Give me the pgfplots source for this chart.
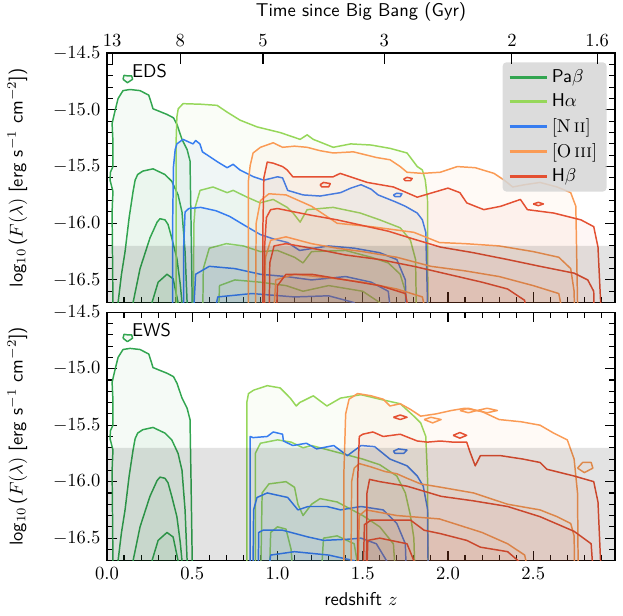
\documentclass[border=0pt]{standalone}
\usepackage{pgfplots}
\pgfplotsset{compat=1.18}
\definecolor{cPa}{RGB}{50,165,80}
\definecolor{cHa}{RGB}{150,215,90}
\definecolor{cN}{RGB}{55,125,240}
\definecolor{cO}{RGB}{250,155,85}
\definecolor{cHb}{RGB}{228,80,50}
\pgfplotsset{
  ctr/.style={draw=#1, fill=#1, fill opacity=0.05, line width=0.8pt, forget plot, line join=round},
  panel/.style={
    width=274pt, scale only axis,
    xmin=0, xmax=2.98, ymin=-16.7, ymax=-14.5,
    xtick={0,0.5,1,1.5,2,2.5}, ytick={-16.5,-16,-15.5,-15,-14.5},
    minor xtick={0.1,0.2,0.3,0.4,0.6,0.7,0.8,0.9,1.1,1.2,1.3,1.4,1.6,1.7,1.8,1.9,2.1,2.2,2.3,2.4,2.6,2.7,2.8,2.9},
    minor ytick={-16.6,-16.4,-16.3,-16.2,-16.1,-15.9,-15.8,-15.7,-15.6,-15.4,-15.3,-15.2,-15.1,-14.9,-14.8,-14.7,-14.6},
    tick align=inside, major tick length=5.5pt, minor tick length=3pt,
    every tick/.style={black, line width=0.6pt},
    axis line style={line width=0.8pt},
    xticklabel style={/pgf/number format/.cd, fixed, fixed zerofill, precision=1},
    yticklabel style={/pgf/number format/.cd, fixed, fixed zerofill, precision=1},
    ylabel={log$_{10}$\,($F(\lambda)$ [erg s$^{-1}$ cm$^{-2}$])},
    ylabel style={font=\sffamily}, ylabel shift=7pt,
    xlabel style={font=\sffamily},
  },
}
\newcommand{\paplots}{%
\addplot[ctr=cPa] coordinates {(0.035,-17) (0.035,-16.7) (0.03,-15.9) (0.035,-15.72) (0.018,-15.62) (0.02,-15.55) (0.035,-15.5) (0.035,-15.28) (0.03,-15.12) (0.047,-15.01) (0.065,-14.9) (0.094,-14.83) (0.135,-14.82) (0.194,-14.83) (0.245,-14.87) (0.26,-14.94) (0.27,-14.99) (0.352,-15.04) (0.39,-15.07) (0.411,-15.13) (0.44,-15.26) (0.47,-15.35) (0.487,-15.45) (0.493,-15.99) (0.5,-16.7) (0.5,-17)};
\addplot[ctr=cPa] coordinates {(0.065,-17) (0.065,-16.7) (0.085,-16.45) (0.106,-16.25) (0.13,-15.95) (0.153,-15.72) (0.165,-15.62) (0.18,-15.57) (0.21,-15.54) (0.27,-15.52) (0.34,-15.57) (0.38,-15.63) (0.417,-15.75) (0.44,-15.9) (0.458,-16.25) (0.47,-16.7) (0.47,-17)};
\addplot[ctr=cPa] coordinates {(0.153,-17) (0.153,-16.7) (0.194,-16.4) (0.252,-16.13) (0.294,-15.99) (0.311,-15.96) (0.34,-15.97) (0.358,-16.01) (0.38,-16.13) (0.41,-16.31) (0.43,-16.54) (0.44,-16.7) (0.44,-17)};
\addplot[ctr=cPa] coordinates {(0.264,-17) (0.264,-16.7) (0.3,-16.52) (0.352,-16.45) (0.388,-16.49) (0.417,-16.7) (0.417,-17)};
\addplot[ctr=cPa] coordinates {(0.094,-14.73) (0.1,-14.695) (0.12,-14.70) (0.145,-14.70) (0.15,-14.73) (0.12,-14.76) (0.094,-14.73)};
}
\begin{document}
\begin{tikzpicture}
% ---------------- EDS ----------------
\begin{axis}[panel, height=134.5pt, name=top, at={(0,0)}, anchor=south west,
  xticklabels={}, xtick pos=lower,
  legend style={at={(0.984,0.965)}, anchor=north east, fill=black!16, draw=none,
    fill opacity=0.85, text opacity=1, rounded corners=2pt, font=\sffamily,
    row sep=0.6pt, inner xsep=3pt, inner ysep=2pt, cells={anchor=west}},
  legend image code/.code={\draw[#1, line width=1.5pt] (0pt,0pt) -- (20pt,0pt);},
]
\paplots
% H alpha
\addplot[ctr=cHa] coordinates {(0.405,-17) (0.405,-16.0) (0.405,-15.3) (0.41,-15.06) (0.418,-14.99) (0.446,-14.945) (0.55,-14.95) (0.646,-14.96) (0.705,-15.02) (0.78,-15.09) (0.88,-15.15) (1.016,-15.2) (1.133,-15.26) (1.174,-15.22) (1.21,-15.26) (1.327,-15.33) (1.43,-15.30) (1.55,-15.31) (1.662,-15.34) (1.76,-15.38) (1.82,-15.5) (1.85,-15.53) (1.867,-15.62) (1.88,-15.79) (1.882,-16.7) (1.882,-17)};
\addplot[ctr=cHa] coordinates {(0.505,-17) (0.51,-16.0) (0.517,-15.86) (0.546,-15.71) (0.622,-15.68) (0.705,-15.73) (0.74,-15.71) (0.822,-15.77) (0.898,-15.82) (0.975,-15.79) (1.057,-15.86) (1.092,-15.91) (1.133,-15.99) (1.174,-15.88) (1.327,-15.86) (1.486,-15.91) (1.60,-15.97) (1.72,-16.04) (1.78,-16.15) (1.81,-16.32) (1.814,-16.7) (1.814,-17)};
\addplot[ctr=cHa] coordinates {(0.56,-17) (0.565,-16.4) (0.6,-16.22) (0.7,-16.18) (0.8,-16.2) (0.9,-16.25) (1.0,-16.24) (1.1,-16.3) (1.15,-16.35) (1.2,-16.25) (1.4,-16.24) (1.55,-16.3) (1.65,-16.35) (1.72,-16.45) (1.75,-16.6) (1.76,-17)};
\addplot[ctr=cHa] coordinates {(0.65,-17) (0.66,-16.55) (0.75,-16.5) (0.9,-16.52) (1.05,-16.55) (1.15,-16.6) (1.3,-16.55) (1.5,-16.6) (1.6,-16.7) (1.6,-17)};
% [N II]
\addplot[ctr=cN] coordinates {(0.385,-17) (0.385,-16.0) (0.39,-15.5) (0.4,-15.35) (0.41,-15.3) (0.446,-15.26) (0.475,-15.28) (0.505,-15.3) (0.52,-15.27) (0.545,-15.3) (0.56,-15.37) (0.65,-15.46) (0.705,-15.51) (0.74,-15.48) (0.78,-15.53) (0.86,-15.59) (0.92,-15.62) (1.0,-15.59) (1.03,-15.60) (1.06,-15.71) (1.15,-15.75) (1.25,-15.76) (1.37,-15.73) (1.43,-15.69) (1.49,-15.66) (1.55,-15.70) (1.59,-15.75) (1.69,-15.81) (1.75,-15.85) (1.82,-15.91) (1.85,-15.97) (1.87,-16.08) (1.88,-16.7) (1.88,-17)};
\addplot[ctr=cN] coordinates {(1.68,-15.75) (1.70,-15.735) (1.73,-15.74) (1.72,-15.765) (1.69,-15.765) (1.68,-15.75)};
\addplot[ctr=cN] coordinates {(0.45,-17) (0.45,-16.2) (0.458,-15.9) (0.48,-15.87) (0.55,-15.86) (0.64,-15.89) (0.72,-15.94) (0.82,-16.03) (0.9,-16.1) (0.98,-16.14) (1.06,-16.17) (1.13,-16.24) (1.3,-16.2) (1.45,-16.22) (1.6,-16.26) (1.7,-16.32) (1.75,-16.5) (1.76,-17)};
\addplot[ctr=cN] coordinates {(0.5,-17) (0.52,-16.45) (0.6,-16.38) (0.75,-16.4) (0.9,-16.45) (1.05,-16.47) (1.2,-16.5) (1.4,-16.47) (1.55,-16.52) (1.65,-16.6) (1.68,-17)};
\addplot[ctr=cN] coordinates {(0.6,-17) (0.65,-16.65) (0.85,-16.62) (1.1,-16.65) (1.3,-16.64) (1.45,-16.7) (1.45,-17)};
% [O III]
\addplot[ctr=cO] coordinates {(0.83,-17) (0.83,-16.0) (0.83,-15.62) (0.84,-15.49) (0.857,-15.38) (0.9,-15.33) (0.975,-15.29) (1.03,-15.33) (1.1,-15.32) (1.174,-15.33) (1.25,-15.36) (1.327,-15.38) (1.445,-15.37) (1.5,-15.39) (1.58,-15.42) (1.66,-15.44) (1.72,-15.5) (1.76,-15.55) (1.85,-15.56) (1.955,-15.55) (2.055,-15.50) (2.16,-15.51) (2.27,-15.56) (2.33,-15.62) (2.38,-15.68) (2.45,-15.66) (2.54,-15.64) (2.64,-15.68) (2.72,-15.73) (2.75,-15.85) (2.76,-16.7) (2.76,-17)};
\addplot[ctr=cO] coordinates {(0.87,-17) (0.875,-16.0) (0.9,-15.8) (0.95,-15.74) (1.05,-15.75) (1.2,-15.85) (1.35,-16.0) (1.55,-16.03) (1.8,-16.08) (1.95,-16.17) (2.1,-16.18) (2.3,-16.2) (2.5,-16.25) (2.65,-16.3) (2.72,-16.4) (2.74,-16.6) (2.745,-17)};
\addplot[ctr=cO] coordinates {(0.92,-17) (0.93,-16.3) (0.96,-16.15) (1.05,-16.12) (1.2,-16.18) (1.35,-16.22) (1.5,-16.25) (1.7,-16.3) (1.9,-16.38) (2.1,-16.42) (2.3,-16.47) (2.5,-16.55) (2.65,-16.62) (2.7,-17)};
\addplot[ctr=cO] coordinates {(0.97,-17) (0.99,-16.5) (1.1,-16.45) (1.3,-16.48) (1.5,-16.52) (1.7,-16.58) (1.85,-16.65) (1.9,-17)};
% H beta
\addplot[ctr=cHb] coordinates {(0.915,-17) (0.915,-16.0) (0.92,-15.6) (0.94,-15.46) (0.975,-15.47) (1.03,-15.5) (1.057,-15.53) (1.09,-15.59) (1.21,-15.59) (1.327,-15.59) (1.368,-15.56) (1.527,-15.64) (1.68,-15.68) (1.82,-15.77) (2.0,-15.69) (2.07,-15.73) (2.11,-15.82) (2.21,-15.88) (2.31,-15.85) (2.425,-15.79) (2.466,-15.88) (2.62,-15.91) (2.78,-15.97) (2.855,-16.03) (2.88,-16.21) (2.895,-16.68) (2.895,-17)};
\addplot[ctr=cHb] coordinates {(1.25,-15.66) (1.27,-15.64) (1.31,-15.65) (1.30,-15.68) (1.26,-15.68) (1.25,-15.66)};
\addplot[ctr=cHb] coordinates {(1.74,-15.61) (1.76,-15.595) (1.79,-15.605) (1.78,-15.625) (1.75,-15.625) (1.74,-15.61)};
\addplot[ctr=cHb] coordinates {(2.5,-15.83) (2.53,-15.815) (2.56,-15.83) (2.53,-15.845) (2.5,-15.83)};
\addplot[ctr=cHb] coordinates {(0.92,-17) (0.925,-16.2) (0.935,-15.95) (0.96,-15.88) (1.0,-15.87) (1.1,-15.9) (1.2,-15.93) (1.35,-15.97) (1.5,-16.02) (1.65,-16.07) (1.8,-16.14) (1.955,-16.21) (2.15,-16.26) (2.35,-16.32) (2.54,-16.38) (2.74,-16.44) (2.82,-16.5) (2.855,-16.6) (2.86,-17)};
\addplot[ctr=cHb] coordinates {(0.95,-17) (0.955,-16.35) (0.98,-16.2) (1.05,-16.18) (1.2,-16.22) (1.4,-16.28) (1.6,-16.32) (1.8,-16.38) (2.0,-16.45) (2.2,-16.52) (2.35,-16.58) (2.45,-16.68) (2.47,-17)};
\addplot[ctr=cHb] coordinates {(0.99,-17) (1.0,-16.55) (1.05,-16.45) (1.2,-16.45) (1.4,-16.5) (1.6,-16.55) (1.75,-16.62) (1.8,-17)};
% limit band
\addplot[draw=none, fill=black, fill opacity=0.11, forget plot] coordinates {(0,-16.2) (2.98,-16.2) (2.98,-17) (0,-17) (0,-16.2)};
\node[anchor=west, inner sep=0pt, font=\sffamily] at (axis cs:0.145,-14.66) {EDS};
\addlegendimage{cPa}\addlegendentry{Pa$\beta$}
\addlegendimage{cHa}\addlegendentry{H$\alpha$}
\addlegendimage{cN}\addlegendentry{{\rmfamily[N\,\textsc{ii}]}}
\addlegendimage{cO}\addlegendentry{{\rmfamily[O\,\textsc{iii}]}}
\addlegendimage{cHb}\addlegendentry{H$\beta$}
\end{axis}
% ---------------- time axis ----------------
\begin{axis}[width=274pt, height=134.5pt, scale only axis, at={(0,0)}, anchor=south west,
  xmin=0, xmax=2.98, ymin=0, ymax=1, axis x line*=top, axis y line=none,
  xtick={0.03,0.43,0.915,1.627,2.375,2.875}, xticklabels={13,8,5,3,2,1.6},
  tick align=inside, major tick length=6pt, every tick/.style={black, line width=0.6pt},
  axis line style={line width=0.8pt},
  xlabel={Time since Big Bang (Gyr)}, xlabel style={font=\sffamily}]
\addplot[draw=none, forget plot] coordinates {(0,0) (1,1)};
\end{axis}
% ---------------- EWS ----------------
\begin{axis}[panel, height=134pt, name=bot, at={(0,-5.2pt)}, anchor=north west,
  xlabel={redshift $z$}]
\paplots
% H alpha
\addplot[ctr=cHa] coordinates {(0.82,-17) (0.82,-15.3) (0.83,-15.22) (0.86,-15.19) (0.94,-15.15) (1.016,-15.17) (1.075,-15.26) (1.11,-15.33) (1.13,-15.30) (1.21,-15.24) (1.29,-15.33) (1.37,-15.26) (1.49,-15.23) (1.60,-15.27) (1.72,-15.31) (1.80,-15.42) (1.84,-15.48) (1.87,-15.6) (1.88,-15.96) (1.885,-17)};
\addplot[ctr=cHa] coordinates {(0.87,-17) (0.87,-15.75) (0.9,-15.66) (1.0,-15.63) (1.08,-15.65) (1.15,-15.7) (1.2,-15.68) (1.3,-15.72) (1.4,-15.76) (1.5,-15.8) (1.6,-15.85) (1.7,-15.95) (1.75,-16.1) (1.78,-16.3) (1.8,-16.5) (1.81,-17)};
\addplot[ctr=cHa] coordinates {(0.9,-17) (0.91,-16.1) (0.95,-16.02) (1.05,-16.0) (1.1,-16.05) (1.12,-16.2) (1.15,-16.3) (1.2,-16.2) (1.25,-16.15) (1.35,-16.18) (1.5,-16.3) (1.6,-16.4) (1.68,-16.55) (1.7,-17)};
\addplot[ctr=cHa] coordinates {(0.95,-17) (0.96,-16.45) (1.0,-16.4) (1.05,-16.42) (1.08,-16.6) (1.1,-17)};
\addplot[ctr=cHa] coordinates {(1.25,-17) (1.27,-16.5) (1.35,-16.48) (1.45,-16.55) (1.5,-17)};
% [N II]
\addplot[ctr=cN] coordinates {(0.84,-17) (0.84,-15.6) (0.857,-15.61) (0.94,-15.6) (0.975,-15.56) (1.03,-15.58) (1.035,-15.64) (1.09,-15.68) (1.17,-15.66) (1.23,-15.71) (1.33,-15.68) (1.41,-15.77) (1.49,-15.68) (1.57,-15.69) (1.66,-15.8) (1.76,-15.86) (1.82,-15.95) (1.855,-16.04) (1.88,-16.24) (1.885,-17)};
\addplot[ctr=cN] coordinates {(1.68,-15.73) (1.71,-15.71) (1.76,-15.72) (1.74,-15.75) (1.69,-15.75) (1.68,-15.73)};
\addplot[ctr=cN] coordinates {(0.855,-17) (0.86,-16.25) (0.88,-16.14) (0.94,-16.1) (1.06,-16.14) (1.12,-16.25) (1.18,-16.22) (1.29,-16.22) (1.37,-16.25) (1.49,-16.22) (1.62,-16.25) (1.70,-16.37) (1.75,-16.55) (1.76,-17)};
\addplot[ctr=cN] coordinates {(0.885,-17) (0.89,-16.45) (0.915,-16.43) (1.03,-16.43) (1.18,-16.49) (1.27,-16.52) (1.41,-16.51) (1.49,-16.50) (1.58,-16.55) (1.64,-16.7) (1.65,-17)};
\addplot[ctr=cN] coordinates {(0.93,-17) (0.96,-16.65) (1.1,-16.62) (1.3,-16.65) (1.45,-16.7) (1.5,-17)};
% [O III]
\addplot[ctr=cO] coordinates {(1.39,-17) (1.39,-15.9) (1.40,-15.4) (1.42,-15.27) (1.47,-15.22) (1.55,-15.24) (1.62,-15.27) (1.66,-15.33) (1.72,-15.31) (1.78,-15.36) (1.84,-15.42) (1.93,-15.40) (2.02,-15.37) (2.1,-15.35) (2.2,-15.38) (2.3,-15.45) (2.43,-15.47) (2.54,-15.5) (2.62,-15.57) (2.7,-15.63) (2.74,-15.8) (2.76,-16.1) (2.765,-17)};
\addplot[ctr=cO] coordinates {(2.07,-15.37) (2.12,-15.35) (2.17,-15.37) (2.23,-15.35) (2.29,-15.37) (2.23,-15.39) (2.17,-15.37) (2.12,-15.39) (2.07,-15.37)};
\addplot[ctr=cO] coordinates {(1.86,-15.45) (1.9,-15.43) (1.96,-15.45) (1.91,-15.48) (1.86,-15.45)};
\addplot[ctr=cO] coordinates {(2.76,-15.88) (2.79,-15.83) (2.84,-15.83) (2.85,-15.88) (2.8,-15.92) (2.76,-15.88)};
\addplot[ctr=cO] coordinates {(1.43,-17) (1.435,-16.0) (1.45,-15.88) (1.48,-15.84) (1.55,-15.87) (1.63,-15.91) (1.7,-15.93) (1.76,-15.97) (1.84,-16.02) (1.96,-16.05) (2.15,-16.1) (2.35,-16.2) (2.54,-16.25) (2.64,-16.31) (2.72,-16.37) (2.74,-16.48) (2.745,-17)};
\addplot[ctr=cO] coordinates {(1.47,-17) (1.48,-16.3) (1.52,-16.25) (1.7,-16.3) (1.95,-16.33) (2.2,-16.45) (2.35,-16.55) (2.45,-16.65) (2.5,-17)};
% H beta
\addplot[ctr=cHb] coordinates {(1.47,-17) (1.47,-16.0) (1.475,-15.8) (1.48,-15.6) (1.5,-15.58) (1.56,-15.56) (1.62,-15.6) (1.72,-15.58) (1.82,-15.64) (1.88,-15.65) (1.955,-15.64) (2.03,-15.65) (2.11,-15.65) (2.13,-15.74) (2.16,-15.86) (2.19,-15.77) (2.31,-15.77) (2.44,-15.80) (2.54,-15.83) (2.58,-15.89) (2.74,-15.95) (2.855,-16.0) (2.88,-16.18) (2.895,-16.7) (2.9,-17)};
\addplot[ctr=cHb] coordinates {(1.68,-15.43) (1.72,-15.41) (1.76,-15.43) (1.72,-15.45) (1.68,-15.43)};
\addplot[ctr=cHb] coordinates {(2.03,-15.59) (2.07,-15.565) (2.11,-15.59) (2.07,-15.615) (2.03,-15.59)};
\addplot[ctr=cHb] coordinates {(1.52,-17) (1.525,-16.1) (1.54,-15.98) (1.6,-16.0) (1.76,-16.04) (1.96,-16.13) (2.15,-16.17) (2.35,-16.22) (2.54,-16.31) (2.74,-16.44) (2.84,-16.55) (2.86,-17)};
\addplot[ctr=cHb] coordinates {(1.5,-17) (1.51,-16.38) (1.55,-16.34) (1.68,-16.34) (1.78,-16.34) (1.86,-16.43) (1.955,-16.46) (2.11,-16.52) (2.19,-16.58) (2.35,-16.62) (2.45,-16.75) (2.5,-17)};
\addplot[ctr=cHb] coordinates {(1.52,-17) (1.53,-16.52) (1.6,-16.5) (1.76,-16.55) (1.8,-16.7) (1.82,-17)};
% limit band
\addplot[draw=none, fill=black, fill opacity=0.11, forget plot] coordinates {(0,-15.7) (2.98,-15.7) (2.98,-17) (0,-17) (0,-15.7)};
\node[anchor=west, inner sep=0pt, font=\sffamily] at (axis cs:0.145,-14.66) {EWS};
\end{axis}
\pgfresetboundingbox
\path[use as bounding box] (-57.7pt,-169pt) rectangle (278.3pt,163.2pt);
\end{tikzpicture}
\end{document}
